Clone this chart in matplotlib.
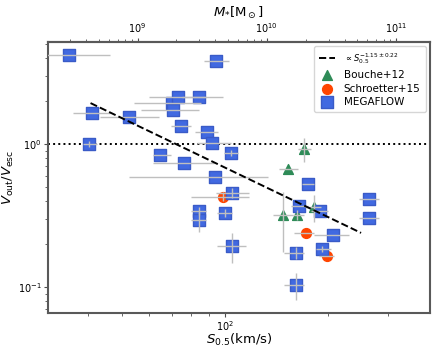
import numpy as np
import matplotlib
matplotlib.use("Agg")
import matplotlib.pyplot as plt
from matplotlib.ticker import LogLocator, NullFormatter

# MEGAFLOW: S0.5, Vout/Vesc, S lower/upper, V lower/upper
mf_s = [35.2, 94.1, 41.1, 52.4, 40.3, 70.0, 70.5, 72.9, 84.0, 74.8, 88.6, 91.6, 104, 64.6, 75.9,
        93.5, 104.8, 84.0, 84.0, 100, 104.8, 175, 164.5, 190, 264, 264, 207, 192, 161, 161]
mf_v = [4.19, 3.80, 1.65, 1.54, 1.00, 1.94, 1.73, 2.13, 2.13, 1.34, 1.21, 1.016, 0.865, 0.838, 0.736,
        0.588, 0.454, 0.340, 0.294, 0.329, 0.194, 0.525, 0.368, 0.340, 0.412, 0.304, 0.231, 0.184, 0.173, 0.103]
mf_slo = [27, 86.8, 36.1, 43.4, 38.5, 54.2, 56.8, 60, 75, 69.5, 81.7, 83, 99.3, 61.6, 61.6,
          52.7, 94.1, 80, 80, 95, 94.8, 168, 156, 178, 246, 246, 182, 185, 149, 149]
mf_shi = [46.4, 102.7, 46.4, 64.1, 42.5, 85.1, 84.0, 88, 98.7, 79.6, 95.4, 104, 109.2, 69.5, 92.9,
          133.6, 117.5, 88, 88, 105, 115.2, 182, 175, 200, 282, 282, 230, 204, 170, 170]
mf_vlo = [4.19, 3.80, 1.65, 1.54, 0.95, 1.94, 1.73, 2.13, 2.13, 1.34, 1.21, 1.016, 0.82, 0.838, 0.736,
          0.588, 0.42, 0.32, 0.242, 0.31, 0.147, 0.525, 0.368, 0.340, 0.412, 0.304, 0.231, 0.175, 0.157, 0.081]
mf_vhi = [4.19, 3.80, 1.65, 1.54, 1.05, 1.94, 1.73, 2.13, 2.13, 1.34, 1.21, 1.016, 0.91, 0.838, 0.736,
          0.588, 0.49, 0.36, 0.335, 0.35, 0.239, 0.525, 0.368, 0.340, 0.412, 0.304, 0.231, 0.195, 0.190, 0.125]

# Bouche+12
bo_s = [170, 153, 148, 162.5, 182]
bo_v = [0.923, 0.668, 0.319, 0.319, 0.362]
bo_slo = [163.7, 143.9, 138.1, 158, 172]
bo_shi = [178.4, 163.7, 158.0, 170, 191]
bo_vlo = [0.748, 0.668, 0.176, 0.294, 0.285]
bo_vhi = [1.10, 0.668, 0.462, 0.345, 0.440]

# Schroetter+15
sc_s = [98.7, 172.5, 199]
sc_v = [0.426, 0.239, 0.165]
sc_slo = [79.6, 159, 188]
sc_shi = [117.5, 182, 208]
sc_vlo = [0.40, 0.239, 0.165]
sc_vhi = [0.46, 0.239, 0.165]

# power-law fit
fit_slope = -1.15
fit_logA = 2.136
fit_range = [40.6, 250]

mass_ticks = [1e9, 1e10, 1e11]

fig = plt.figure(figsize=(4.36, 3.47), dpi=100)
ax = fig.add_axes([0.110, 0.098, 0.876, 0.781])
ax.set_xscale("log")
ax.set_yscale("log")


def errs(c, lo, hi):
    c = np.array(c)
    return [c - np.array(lo), np.array(hi) - c]


ecol = "0.75"
sfit = np.array(fit_range)
ax.plot(sfit, 10 ** fit_logA * sfit ** fit_slope, "k--", lw=1.4,
        label=r"$\propto S_{0.5}^{-1.15\pm0.22}$", zorder=5)
ax.axhline(1.0, color="k", ls=":", lw=1.4, zorder=1)

ax.scatter(bo_s, bo_v, marker="^", s=50, color="#2e8b57", zorder=2, label="Bouche+12")
ax.scatter(sc_s, sc_v, marker="o", s=50, color="#ff4500", zorder=2, label="Schroetter+15")
ax.scatter(mf_s, mf_v, marker="s", s=85, color="royalblue", edgecolors="#3a5bc7",
           zorder=2, label="MEGAFLOW")
for s, v, slo, shi, vlo, vhi in [(mf_s, mf_v, mf_slo, mf_shi, mf_vlo, mf_vhi),
                                 (bo_s, bo_v, bo_slo, bo_shi, bo_vlo, bo_vhi),
                                 (sc_s, sc_v, sc_slo, sc_shi, sc_vlo, sc_vhi)]:
    ax.errorbar(s, v, xerr=errs(s, slo, shi), yerr=errs(v, vlo, vhi), fmt="none",
                ecolor=ecol, elinewidth=1, zorder=3)

ax.set_xlim(30.5, 397)
ax.set_ylim(0.0658, 5.17)
ax.set_xticks([100])
ax.xaxis.set_minor_locator(LogLocator(base=10, subs=np.arange(2, 10)))
ax.xaxis.set_minor_formatter(NullFormatter())
ax.yaxis.set_minor_formatter(NullFormatter())
ax.set_xlabel(r"$S_{0.5}$(km/s)", fontsize=9.5, labelpad=-1)
ax.set_ylabel(r"$V_\mathrm{out}/V_\mathrm{esc}$", fontsize=9.5, labelpad=1)
ax.tick_params(labelsize=7, length=3, pad=1.5, color="0.3")
ax.tick_params(which="minor", length=2.2, color="0.3")

for sp in ax.spines.values():
    sp.set_linewidth(1.5)
    sp.set_color("0.35")


def fwd(s):
    s = np.clip(s, 1e-3, None)
    return 10 ** (9.674 + 2.651 * (np.log10(s) - 2))


def inv(m):
    m = np.clip(m, 1e-3, None)
    return 10 ** (2 + (np.log10(m) - 9.674) / 2.651)


top = ax.secondary_xaxis("top", functions=(fwd, inv))
top.set_xscale("log")
top.set_xticks(mass_ticks)
top.xaxis.set_minor_locator(LogLocator(base=10, subs=np.arange(2, 10)))
top.xaxis.set_minor_formatter(NullFormatter())
top.set_xlabel(r"$M_{*}[\mathrm{M}_\odot]$", fontsize=9.5, labelpad=3)
top.tick_params(labelsize=7, length=3, pad=2, color="0.3")
top.tick_params(which="minor", length=2.2, color="0.3")
top.spines["top"].set_linewidth(1.5)
top.spines["top"].set_color("0.35")

leg = ax.legend(loc="upper right", fontsize=7.5, handlelength=1.6, borderpad=0.5,
                labelspacing=0.35, handletextpad=0.8, borderaxespad=0.4)
leg.get_texts()[0].set_fontsize(6)

fig.savefig("out.png", dpi=100)
